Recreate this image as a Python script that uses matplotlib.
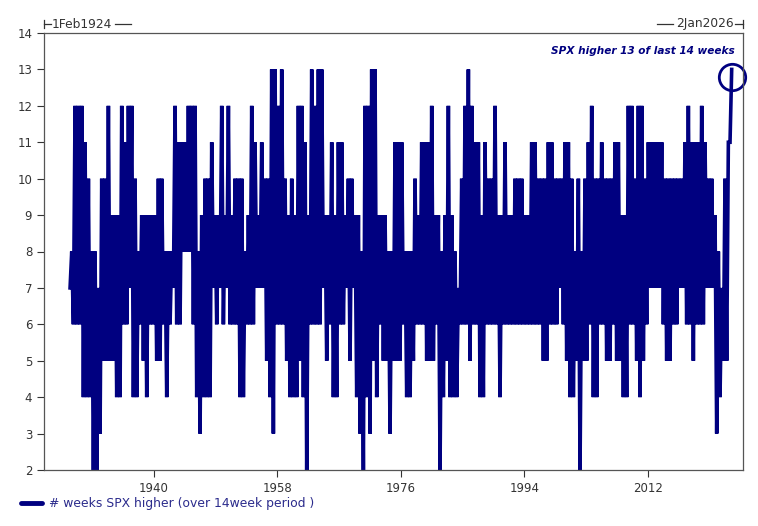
import numpy as np
import matplotlib
matplotlib.use("Agg")
import matplotlib.pyplot as plt
from matplotlib.lines import Line2D

# weekly "# of up weeks in the last 14" count, read off the chart as
# low/high envelope per ~half-year bin (1927.8 -> 2024)
start_year = 1927.8
bin_years = 0.4859

lows = [
  7, 6, 6, 6, 4, 4, 4, 2, 2, 3, 5, 5, 5, 5, 4, 4, 6, 6, 7, 4,
  4, 6, 5, 4, 6, 6, 5, 5, 6, 4, 6, 7, 6, 6, 8, 8, 8, 6, 4,
  3, 4, 4, 4, 7, 6, 7, 6, 7, 6, 6, 6, 4, 4, 6, 6, 6, 7, 7, 7,
  5, 4, 3, 6, 6, 6, 5, 4, 4, 4, 5, 4, 2, 6, 6, 6, 6, 7, 5, 6,
  4, 4, 6, 6, 7, 5, 7, 4, 3, 2, 4,
  3, 5, 4, 6, 5, 5, 3, 5, 5, 5, 6, 4, 4, 5, 6, 6, 6, 5, 5, 5,
  6, 2, 4, 5, 4, 4, 4, 6, 6, 6, 5, 6, 6, 4, 4, 6, 6, 6, 6, 4,
  6, 6, 6, 6, 6, 6, 6, 6, 6, 6, 6,
  6, 5, 5, 6, 6, 6, 7, 6, 5, 4, 4, 5, 2, 5, 5, 6, 4, 4, 6, 6,
  5, 5, 6, 5, 5, 4, 4, 6, 6, 5, 4, 5, 6, 7, 7, 7, 7, 6, 5, 5,
  6, 6, 7, 7, 6, 6, 5, 6, 6, 6, 7, 7, 7, 3, 4, 5, 5, 11,
]
highs = [
  8, 12, 12, 12, 11, 10, 8, 8, 7, 10, 10, 12, 9, 9, 9, 12, 11, 12, 12, 10,
  8, 9, 9, 9, 9, 9, 10, 10, 8, 8, 8, 12, 11, 11, 11, 12, 12, 12, 8,
  9, 10, 10, 11, 9, 9, 12, 9, 12, 9, 10, 10, 10, 8, 9, 12, 11, 9, 11, 10,
  10, 13, 13, 12, 13, 10, 9, 10, 9, 12, 12, 11, 9, 13, 12, 13, 13, 9, 9, 11,
  9, 11, 11, 9, 10, 10, 9, 9, 8, 12, 12,
  13, 13, 9, 9, 9, 8, 8, 11, 11, 11, 8, 8, 8, 10, 9, 11, 11, 11, 12, 9,
  9, 8, 9, 12, 9, 8, 7, 10, 12, 13, 12, 11, 11, 9, 11, 10, 10, 12, 9, 9,
  11, 9, 9, 10, 10, 10, 9, 9, 11, 11, 10,
  10, 10, 11, 11, 10, 10, 10, 11, 11, 10, 8, 10, 8, 10, 11, 12, 10, 10, 11, 10,
  10, 10, 11, 11, 9, 9, 12, 12, 10, 12, 12, 10, 11, 11, 11, 11, 11, 10, 10, 10,
  10, 10, 10, 11, 12, 11, 11, 11, 12, 11, 10, 10, 9, 8, 7, 10, 11, 13,
]

y_ticks = [2, 3, 4, 5, 6, 7, 8, 9, 10, 11, 12, 13, 14]
x_ticks = [1940, 1958, 1976, 1994, 2012]

navy = "#000080"
label_col = "#2b2b8c"

# zigzag low -> high inside every bin so the thick line fills the band
n = min(len(lows), len(highs))
t = start_year + bin_years * np.arange(n)
xs = np.column_stack([t, t + bin_years / 2]).ravel()
ys = np.column_stack([lows[:n], highs[:n]]).ravel()

fig = plt.figure(figsize=(7.58, 5.26), dpi=100)
ax = fig.add_axes([44 / 758, 1 - 470 / 526, 699 / 758, 437 / 526])

ax.plot(xs, ys, color=navy, lw=2.6, solid_joinstyle="miter")

# highlight the latest reading
ax.plot([xs[-1]], [ys[-1] - 0.2], marker="o", ms=19, mfc="none",
        mec=navy, mew=2, clip_on=False)
ax.text(0.988, 0.959, "SPX higher 13 of last 14 weeks", transform=ax.transAxes,
        ha="right", va="center", color=navy, fontsize=7.6,
        fontweight="bold", fontstyle="italic")

ax.set_xlim(1924.0, 2025.9)
ax.set_ylim(2, 14)
ax.set_yticks(y_ticks)
ax.set_xticks(x_ticks)
ax.tick_params(axis="both", labelsize=8.5, colors="#333333", length=5, width=0.8)
ax.tick_params(axis="x", pad=4)
for s in ax.spines.values():
  s.set_color("#555555")
  s.set_linewidth(0.9)

# date range markers above the plot
yl = 1 - 24 / 526
def fline(x0, x1, y0, y1):
  fig.add_artist(Line2D([x0 / 758, x1 / 758], [y0, y1], color="#333333", lw=0.9))
fline(44, 44, yl - 0.008, yl + 0.008)
fline(44, 51, yl, yl)
fig.text(52 / 758, yl, "1Feb1924", fontsize=8.8, color="#333333", va="center", ha="left")
fline(115, 131, yl, yl)
fline(743, 743, yl - 0.008, yl + 0.008)
fline(735, 743, yl, yl)
fig.text(734 / 758, yl, "2Jan2026", fontsize=8.8, color="#333333", va="center", ha="right")
fline(657, 673, yl, yl)

# legend
yleg = 1 - 503 / 526
fig.add_artist(Line2D([21 / 758, 42 / 758], [yleg, yleg], color=navy, lw=3.5,
                      solid_capstyle="round"))
fig.text(49 / 758, yleg, "# weeks SPX higher (over 14week period )", fontsize=8.9,
         color=label_col, va="center", ha="left")

fig.savefig("out.png", dpi=100)
